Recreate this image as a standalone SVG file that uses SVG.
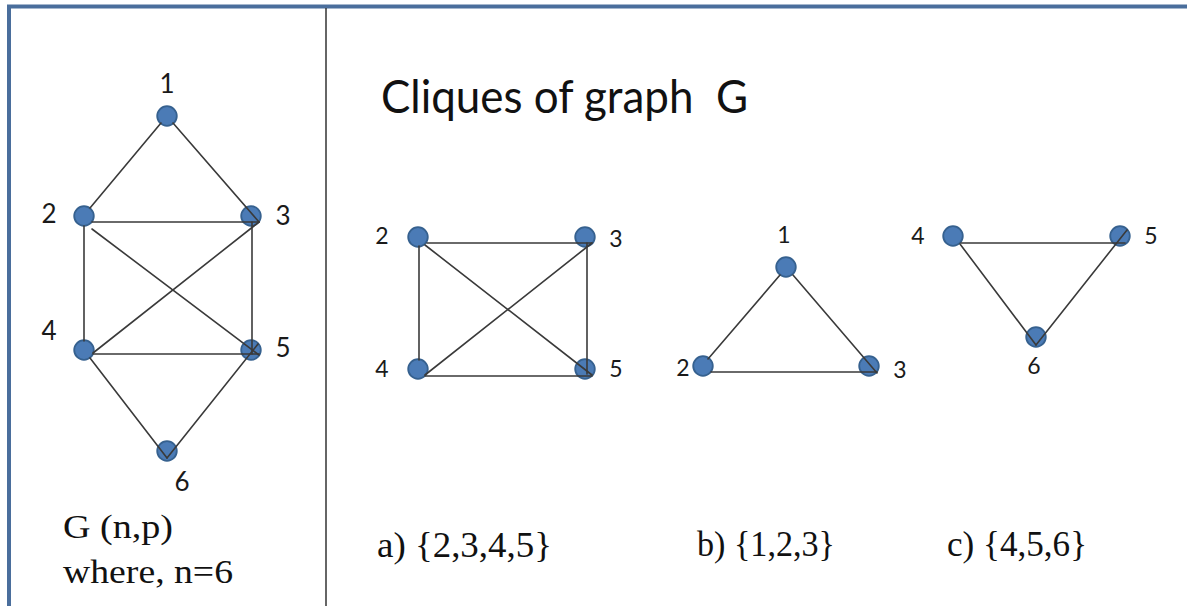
<svg xmlns="http://www.w3.org/2000/svg" width="1187" height="606" viewBox="0 0 1187 606">
<style>
.nd{fill:#4b7bb6;stroke:#36618f;stroke-width:1.8}
.ed{stroke:#3a3a3a;stroke-width:1.6;fill:none;stroke-linecap:round}
.lb1{font-family:Lato,"Liberation Sans",sans-serif;font-size:26px;fill:#1a1a1a;text-anchor:middle}
.lb2{font-family:Lato,"Liberation Sans",sans-serif;font-size:23px;fill:#1a1a1a;text-anchor:middle}
.ser{font-family:"Liberation Serif","Times New Roman",serif;fill:#111}
</style>
<rect width="1187" height="606" fill="#ffffff"/>
<path d="M9,606 V6.5 H1187" fill="none" stroke="#4a6e9c" stroke-width="4"/>
<line x1="326" y1="8" x2="326" y2="606" stroke="#333" stroke-width="1.5"/>

<g id="title"><text x="381" y="113" font-family="Lato,'Liberation Sans',sans-serif" font-size="46" fill="#111" style="white-space:pre" textLength="367" lengthAdjust="spacingAndGlyphs">Cliques of graph  G</text></g>

<!-- Graph G nodes -->
<g id="g-n1"><circle class="nd" cx="167" cy="116" r="9.8"/><text class="lb1" x="167" y="93">1</text></g>
<g id="g-n2"><circle class="nd" cx="84" cy="216" r="9.8"/><text class="lb1" x="49" y="223">2</text></g>
<g id="g-n3"><circle class="nd" cx="251" cy="216" r="9.8"/><text class="lb1" x="283" y="225">3</text></g>
<g id="g-n4"><circle class="nd" cx="84" cy="350" r="9.8"/><text class="lb1" x="49" y="340">4</text></g>
<g id="g-n5"><circle class="nd" cx="251" cy="350" r="9.8"/><text class="lb1" x="283" y="357">5</text></g>
<g id="g-n6"><circle class="nd" cx="167" cy="451" r="9.8"/><text class="lb1" x="182" y="491">6</text></g>

<!-- Clique a nodes -->
<g id="a-n2"><circle class="nd" cx="418" cy="237" r="9.8"/><text class="lb2" x="382" y="244">2</text></g>
<g id="a-n3"><circle class="nd" cx="585" cy="237" r="9.8"/><text class="lb2" x="616" y="247">3</text></g>
<g id="a-n4"><circle class="nd" cx="418" cy="369" r="9.8"/><text class="lb2" x="382" y="377">4</text></g>
<g id="a-n5"><circle class="nd" cx="585" cy="369" r="9.8"/><text class="lb2" x="616" y="377">5</text></g>

<!-- Clique b nodes -->
<g id="b-n1"><circle class="nd" cx="786" cy="267" r="9.8"/><text class="lb2" x="784" y="243">1</text></g>
<g id="b-n2"><circle class="nd" cx="703" cy="366" r="9.8"/><text class="lb2" x="683" y="376">2</text></g>
<g id="b-n3"><circle class="nd" cx="869" cy="366" r="9.8"/><text class="lb2" x="900" y="378">3</text></g>

<!-- Clique c nodes -->
<g id="c-n4"><circle class="nd" cx="953" cy="236" r="9.8"/><text class="lb2" x="918" y="244">4</text></g>
<g id="c-n5"><circle class="nd" cx="1120" cy="236" r="9.8"/><text class="lb2" x="1151" y="244">5</text></g>
<g id="c-n6"><circle class="nd" cx="1036" cy="337" r="9.8"/><text class="lb2" x="1034" y="374">6</text></g>

<g id="connectors">
  <!-- Graph G -->
  <line class="ed" x1="161" y1="123" x2="90" y2="208"/>
  <line class="ed" x1="173" y1="123" x2="259" y2="222"/>
  <line class="ed" x1="92" y1="222" x2="259" y2="222"/>
  <line class="ed" x1="84" y1="226" x2="84" y2="341"/>
  <line class="ed" x1="252" y1="222" x2="252" y2="354"/>
  <line class="ed" x1="92" y1="229" x2="259" y2="355"/>
  <line class="ed" x1="93" y1="353" x2="259" y2="222"/>
  <line class="ed" x1="93" y1="354" x2="259" y2="354"/>
  <line class="ed" x1="90" y1="358" x2="167" y2="458"/>
  <line class="ed" x1="258" y1="344" x2="167" y2="458"/>
  <!-- Clique a -->
  <line class="ed" x1="427" y1="243" x2="592" y2="243"/>
  <line class="ed" x1="419" y1="246" x2="419" y2="360"/>
  <line class="ed" x1="587" y1="243" x2="587" y2="374"/>
  <line class="ed" x1="425" y1="245" x2="592" y2="375"/>
  <line class="ed" x1="425" y1="375" x2="592" y2="243"/>
  <line class="ed" x1="425" y1="376" x2="592" y2="376"/>
  <!-- Clique b -->
  <line class="ed" x1="780" y1="275" x2="708" y2="359"/>
  <line class="ed" x1="793" y1="275" x2="877" y2="373"/>
  <line class="ed" x1="711" y1="372" x2="877" y2="372"/>
  <!-- Clique c -->
  <line class="ed" x1="961" y1="243" x2="1125" y2="243"/>
  <line class="ed" x1="960" y1="244" x2="1036" y2="345"/>
  <line class="ed" x1="1127" y1="230" x2="1036" y2="345"/>
</g>

<g id="captions">
  <text class="ser" x="63" y="538" font-size="33" textLength="110" lengthAdjust="spacingAndGlyphs">G (n,p)</text>
  <text class="ser" x="63" y="583" font-size="33" textLength="170" lengthAdjust="spacingAndGlyphs">where, n=6</text>
  <text class="ser" x="377" y="557" font-size="35" textLength="175" lengthAdjust="spacingAndGlyphs">a) {2,3,4,5}</text>
  <text class="ser" x="697" y="556" font-size="35" textLength="138" lengthAdjust="spacingAndGlyphs">b) {1,2,3}</text>
  <text class="ser" x="947" y="556" font-size="35" textLength="140" lengthAdjust="spacingAndGlyphs">c) {4,5,6}</text>
</g>
</svg>
